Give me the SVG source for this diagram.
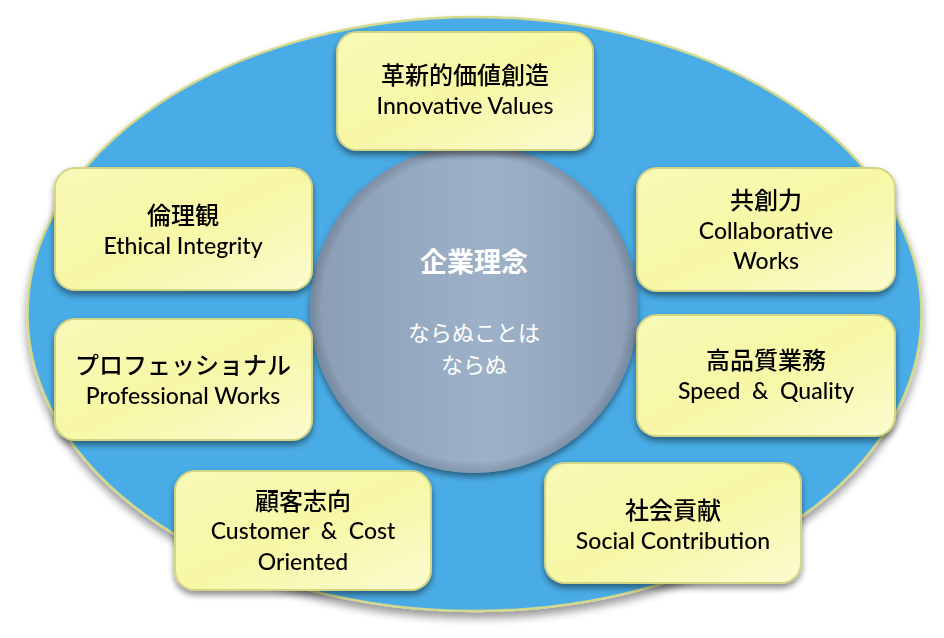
<svg xmlns="http://www.w3.org/2000/svg" width="944" height="638" viewBox="0 0 944 638">
<defs>
<filter id="shadow" x="-20%" y="-20%" width="140%" height="150%">
<feGaussianBlur in="SourceAlpha" stdDeviation="3"/>
<feOffset dx="0" dy="4" result="b"/>
<feComponentTransfer><feFuncA type="linear" slope="0.45"/></feComponentTransfer>
<feMerge><feMergeNode/><feMergeNode in="SourceGraphic"/></feMerge>
</filter>
<filter id="eshadow" x="-10%" y="-10%" width="120%" height="125%">
<feGaussianBlur in="SourceAlpha" stdDeviation="4"/>
<feOffset dx="0" dy="6" result="b"/>
<feComponentTransfer><feFuncA type="linear" slope="0.4"/></feComponentTransfer>
<feMerge><feMergeNode/><feMergeNode in="SourceGraphic"/></feMerge>
</filter>
<linearGradient id="boxg" x1="0" y1="0" x2="1" y2="1">
<stop offset="0" stop-color="#f9f9b8"/>
<stop offset="0.5" stop-color="#f7f7a6"/>
<stop offset="1" stop-color="#fbfbcf"/>
</linearGradient>
<linearGradient id="circg" x1="0" y1="0" x2="1" y2="0">
<stop offset="0" stop-color="#8a9db4"/>
<stop offset="0.55" stop-color="#9db2c9"/>
<stop offset="1" stop-color="#8a9db4"/>
</linearGradient>
<radialGradient id="rim" cx="0.5" cy="0.5" r="0.5">
<stop offset="0.93" stop-color="#000" stop-opacity="0"/>
<stop offset="1" stop-color="#2a3a50" stop-opacity="0.2"/>
</radialGradient>
<style>
.box{fill:url(#boxg);stroke:#d3d585;stroke-width:2}
.t{font-family:Lato,"Noto Sans CJK JP",sans-serif;font-size:23px;font-weight:500;fill:#000;text-anchor:middle}
.j{font-family:"Noto Sans CJK JP",sans-serif;font-size:24px;font-weight:500;fill:#000;text-anchor:middle}
.c{font-family:"Noto Sans CJK JP",sans-serif;font-size:22px;fill:#fff;text-anchor:middle}
.ch{font-size:27px;font-weight:bold}
</style>
</defs>
<g id="background">
<ellipse cx="474.5" cy="314" rx="447" ry="297" fill="#4aace6" stroke="#d4d98c" stroke-width="2.5" filter="url(#eshadow)"/>
</g>
<g id="connectors"></g>
<g id="center">
<circle cx="474" cy="309" r="164" fill="url(#circg)" filter="url(#shadow)"/>
<circle cx="474" cy="309" r="164" fill="url(#rim)"/>
<text class="c ch" x="474" y="272">企業理念</text>
<text class="c" x="474" y="341">ならぬことは</text>
<text class="c" x="474" y="373">ならぬ</text>
</g>
<g id="innovative" filter="url(#shadow)">
<rect class="box" x="337" y="32" width="256" height="118" rx="20"/>
<text class="j" x="465" y="84">革新的価値創造</text>
<text class="t" x="465" y="114">Innovative Values</text>
</g>
<g id="ethical" filter="url(#shadow)">
<rect class="box" x="55" y="168" width="257" height="122" rx="20"/>
<text class="j" x="183" y="224">倫理観</text>
<text class="t" x="183" y="254">Ethical Integrity</text>
</g>
<g id="professional" filter="url(#shadow)">
<rect class="box" x="55" y="319" width="257" height="121" rx="20"/>
<text class="j" x="183" y="374">プロフェッショナル</text>
<text class="t" x="183" y="404">Professional Works</text>
</g>
<g id="collaborative" filter="url(#shadow)">
<rect class="box" x="637" y="168" width="258" height="123" rx="20"/>
<text class="j" x="766" y="209">共創力</text>
<text class="t" x="766" y="239">Collaborative</text>
<text class="t" x="766" y="269">Works</text>
</g>
<g id="speed" filter="url(#shadow)">
<rect class="box" x="637" y="315" width="258" height="121" rx="20"/>
<text class="j" x="766" y="369">高品質業務</text>
<text class="t" x="766" y="399" xml:space="preserve">Speed  &amp;  Quality</text>
</g>
<g id="customer" filter="url(#shadow)">
<rect class="box" x="175" y="471" width="256" height="119" rx="20"/>
<text class="j" x="303" y="510">顧客志向</text>
<text class="t" x="303" y="539" xml:space="preserve">Customer  &amp;  Cost</text>
<text class="t" x="303" y="570">Oriented</text>
</g>
<g id="social" filter="url(#shadow)">
<rect class="box" x="545" y="463" width="256" height="120" rx="20"/>
<text class="j" x="673" y="519">社会貢献</text>
<text class="t" x="673" y="549">Social Contribution</text>
</g>
</svg>
